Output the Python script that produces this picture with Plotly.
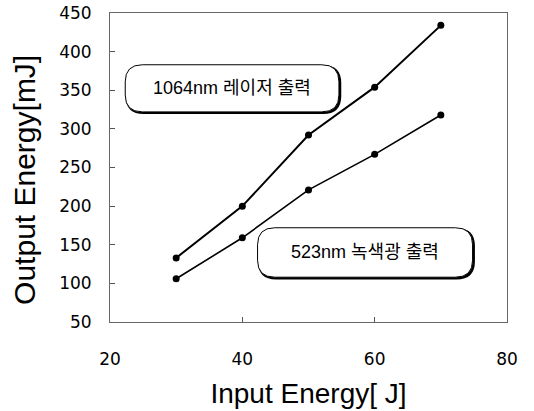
import plotly.graph_objects as go

input_energy = [30, 40, 50, 60, 70]
out_1064 = [133, 200, 292, 354, 434]
out_523 = [106, 159, 221, 267, 318]
label_1064 = "1064nm 레이저 출력"
label_523 = "523nm 녹색광 출력"
x_ticks = [20, 40, 60, 80]
y_ticks = [50, 100, 150, 200, 250, 300, 350, 400, 450]

FONT = "Arial, Liberation Sans, Noto Sans CJK KR, sans-serif"
TICKFONT = "DejaVu Sans, Arial, sans-serif"

fig = go.Figure()
fig.add_trace(go.Scatter(x=input_energy, y=out_1064, mode="lines+markers",
                         line=dict(color="black", width=2),
                         marker=dict(color="black", size=7), showlegend=False))
fig.add_trace(go.Scatter(x=input_energy, y=out_523, mode="lines+markers",
                         line=dict(color="black", width=1.6),
                         marker=dict(color="black", size=7), showlegend=False))


def rrect(x0, x1, y0, y1, rx, ry):
    return (f"M {x0+rx},{y1} L {x1-rx},{y1} Q {x1},{y1} {x1},{y1-ry} "
            f"L {x1},{y0+ry} Q {x1},{y0} {x1-rx},{y0} L {x0+rx},{y0} "
            f"Q {x0},{y0} {x0},{y0+ry} L {x0},{y1-ry} Q {x0},{y1} {x0+rx},{y1} Z")


def add_box(x0, x1, y0, y1, text):
    rx, ry = 2.6, 22
    dx, dy = 0.2, -1.6
    fig.add_shape(type="path", path=rrect(x0 + dx, x1 + dx, y0 + dy, y1 + dy, rx, ry),
                  line=dict(color="black", width=2), fillcolor="black", layer="above")
    fig.add_shape(type="path", path=rrect(x0, x1, y0, y1, rx, ry),
                  line=dict(color="black", width=1), fillcolor="white", layer="above")
    fig.add_annotation(x=(x0 + x1) / 2, y=(y0 + y1) / 2, text=text, showarrow=False,
                       font=dict(family=FONT, size=18, color="black"))


add_box(22.3, 54.6, 322, 383, label_1064)
add_box(42.3, 74.8, 108, 172, label_523)

# y-axis title as a rotated annotation so it can sit where the reference puts it
fig.add_annotation(xref="paper", yref="paper", x=-0.214, y=0.46,
                   text="Output Energy[mJ]", textangle=-90, showarrow=False,
                   xanchor="center", yanchor="middle",
                   font=dict(family=FONT, size=30, color="black"))

fig.update_layout(
    width=534, height=411,
    margin=dict(l=110, r=27, t=13, b=89),
    paper_bgcolor="white", plot_bgcolor="white",
    font=dict(family=FONT, color="black"),
    xaxis=dict(range=[20, 80], tickvals=x_ticks, ticks="inside", ticklen=5,
               tickcolor="#555", showgrid=False, zeroline=False, automargin=False,
               showline=True, mirror=True, linecolor="#666", linewidth=1,
               ticklabeloverflow="allow",
               tickfont=dict(size=17, family=TICKFONT), ticklabelstandoff=22,
               title=dict(text="Input Energy[ J]", font=dict(size=28), standoff=14)),
    yaxis=dict(range=[50, 450], tickvals=y_ticks, ticks="inside", ticklen=5,
               tickcolor="#555", showgrid=False, zeroline=False, automargin=False,
               showline=True, mirror=True, linecolor="#666", linewidth=1,
               ticklabeloverflow="allow",
               tickfont=dict(size=17, family=TICKFONT), ticklabelstandoff=14),
)

# remove the default page margin so the figure sits at the window's top-left corner
fig.write_html("out.html", config={"displayModeBar": False},
               post_script="document.body.style.margin='0';")
